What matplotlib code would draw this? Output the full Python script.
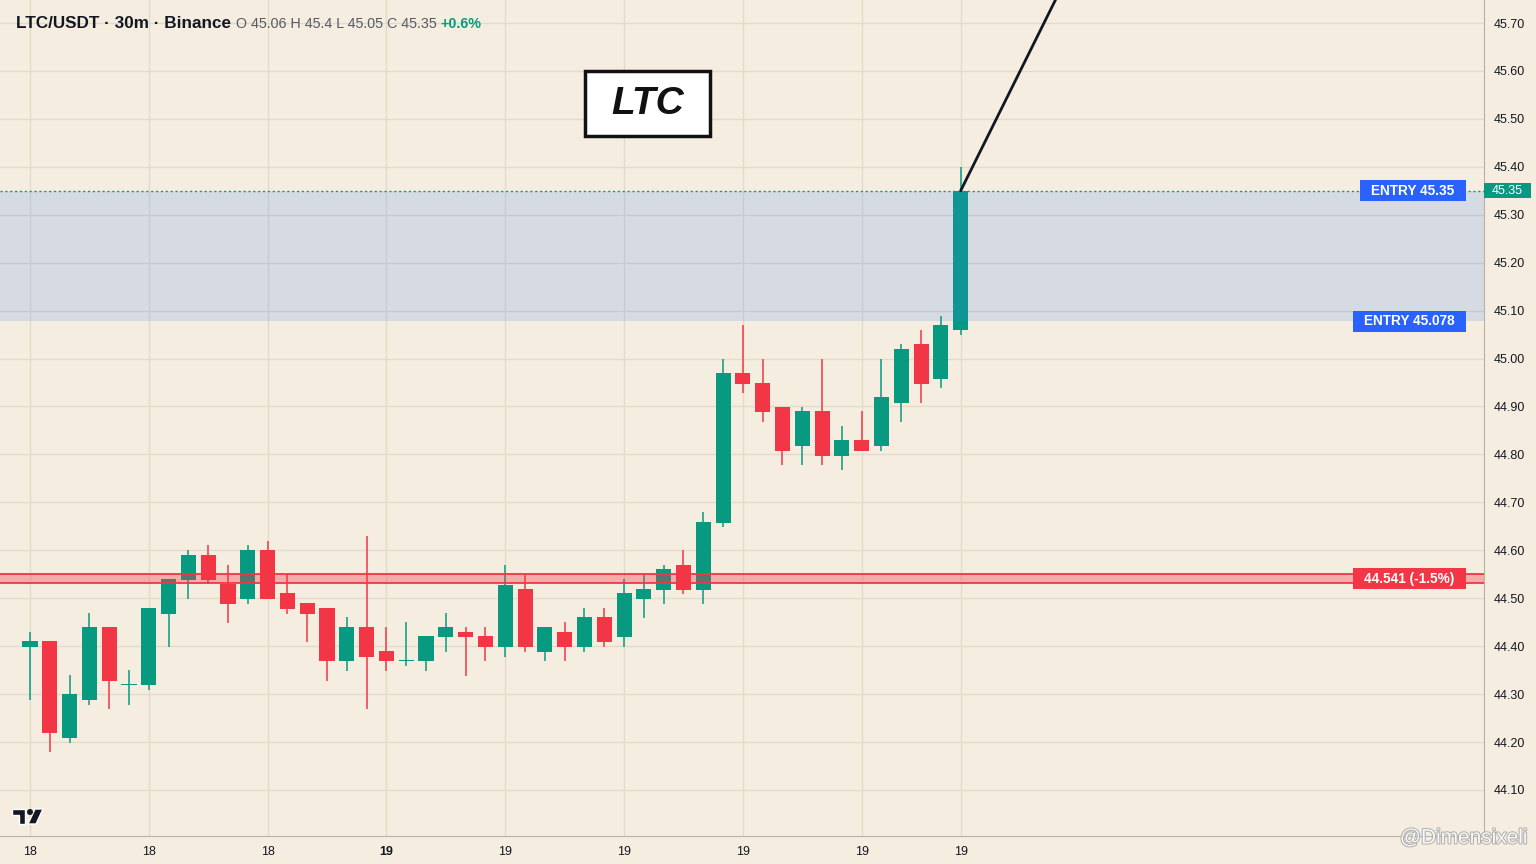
import matplotlib
matplotlib.use("Agg")
import matplotlib.pyplot as plt
import matplotlib.transforms as mtransforms
from matplotlib.patches import Rectangle, Polygon, Ellipse, FancyBboxPatch
import matplotlib.patheffects as pe
import numpy as np

# ---------------- data ----------------
opens = [44.398, 44.411, 44.209, 44.288, 44.440, 44.319, 44.319, 44.467, 44.538, 44.590,
         44.530, 44.498, 44.601, 44.511, 44.490, 44.480, 44.369, 44.440, 44.390, 44.369,
         44.369, 44.419, 44.430, 44.421, 44.398, 44.519, 44.388, 44.430, 44.398, 44.461,
         44.419, 44.498, 44.517, 44.569, 44.517, 44.657, 44.970, 44.949, 44.899, 44.818,
         44.891, 44.797, 44.830, 44.818, 44.907, 45.030, 44.957, 45.060]
highs = [44.430, 44.411, 44.340, 44.469, 44.440, 44.350, 44.480, 44.540, 44.601, 44.611,
         44.569, 44.611, 44.619, 44.551, 44.490, 44.480, 44.461, 44.630, 44.440, 44.450,
         44.421, 44.469, 44.440, 44.440, 44.569, 44.551, 44.440, 44.450, 44.480, 44.480,
         44.540, 44.551, 44.569, 44.601, 44.680, 44.999, 45.070, 44.999, 44.899, 44.899,
         44.999, 44.859, 44.891, 44.999, 45.030, 45.060, 45.089, 45.400]
lows = [44.288, 44.179, 44.198, 44.277, 44.269, 44.277, 44.309, 44.398, 44.498, 44.530,
        44.448, 44.488, 44.498, 44.467, 44.409, 44.327, 44.348, 44.269, 44.348, 44.359,
        44.348, 44.388, 44.338, 44.369, 44.377, 44.388, 44.369, 44.369, 44.388, 44.398,
        44.398, 44.459, 44.488, 44.509, 44.488, 44.649, 44.928, 44.868, 44.778, 44.778,
        44.778, 44.768, 44.807, 44.807, 44.868, 44.907, 44.939, 45.050]
closes = [44.411, 44.219, 44.300, 44.440, 44.327, 44.322, 44.480, 44.540, 44.590, 44.538,
          44.488, 44.601, 44.498, 44.478, 44.467, 44.369, 44.440, 44.377, 44.369, 44.372,
          44.421, 44.440, 44.419, 44.398, 44.528, 44.398, 44.440, 44.398, 44.461, 44.409,
          44.511, 44.519, 44.561, 44.517, 44.659, 44.970, 44.947, 44.889, 44.807, 44.891,
          44.797, 44.830, 44.807, 44.920, 45.020, 44.947, 45.070, 45.350]

xtick_idx = [0, 6, 12, 18, 24, 30, 36, 42, 47]
xtick_labels = ["18", "18", "18", "19", "19", "19", "19", "19", "19"]
bold_tick_pos = 3

ytick_vals = [44.10, 44.20, 44.30, 44.40, 44.50, 44.60, 44.70, 44.80, 44.90,
              45.00, 45.10, 45.20, 45.30, 45.40, 45.50, 45.60, 45.70]

entry_high = 45.35
entry_low = 45.078
stop_level = 44.541
stop_label = "44.541 (-1.5%)"
last_price = 45.35
trend_line_x = [47, 53]
trend_line_y = [45.35, 45.849]

title_main = "LTC/USDT · 30m · Binance"
title_ohlc = "O 45.06 H 45.4 L 45.05 C 45.35"
title_change = "+0.6%"

# ---------------- style ----------------
BG = "#f5eee0"
GREEN = "#089981"
RED = "#f23645"
BLUE = "#2962ff"
TEXT = "#131722"
GRID = "#e2dacb"
plt.rcParams['font.family'] = ['Liberation Sans', 'DejaVu Sans']

W, H = 1536, 864
AX_W, AX_H = 1484, 836
YMIN, YMAX = 44.004, 45.748
PX_PER_UNIT = AX_H / (YMAX - YMIN)

fig = plt.figure(figsize=(W / 100, H / 100), dpi=100, facecolor=BG)
ax = fig.add_axes([0, (H - AX_H) / H, AX_W / W, AX_H / H])
ax.set_facecolor(BG)

ax.set_xlim(-1.515, 73.43)
ax.set_ylim(YMIN, YMAX)

# grid
for v in ytick_vals:
    ax.axhline(v, color=GRID, lw=1, zorder=0)
for i in xtick_idx:
    ax.axvline(i, color=GRID, lw=1, zorder=0)

# candles
o = np.array(opens); h = np.array(highs); l = np.array(lows); c = np.array(closes)
x = np.arange(len(o))
cols = [GREEN if cc >= oo else RED for oo, cc in zip(o, c)]
bottoms = np.minimum(o, c)
heights = np.maximum(np.abs(c - o), 0.0022)
ax.vlines(x, l, h, colors=cols, lw=1.1, zorder=2)
ax.bar(x, heights, bottom=bottoms, width=0.76, color=cols, edgecolor='none', zorder=2.1)

# entry zone
ax.axhspan(entry_low, entry_high, facecolor=(0.26, 0.49, 0.97), alpha=0.17, lw=0, zorder=3)
# dotted last price line
ax.axhline(last_price, color=GREEN, lw=1, ls=(0, (1.5, 2)), zorder=3.5)

# stop band
band = 0.0095
ax.axhspan(stop_level - band, stop_level + band, facecolor=RED, alpha=0.35, lw=0, zorder=3)
ax.axhline(stop_level - band, color=RED, lw=1.3, zorder=3.2)
ax.axhline(stop_level + band, color=RED, lw=1.3, zorder=3.2)

# trend line
ax.plot(trend_line_x, trend_line_y, color=TEXT, lw=2, zorder=4, solid_capstyle='round')

# LTC box (pixel-placed annotation)
ax.add_patch(Rectangle((585 / AX_W, 1 - 136 / AX_H), 125 / AX_W, 65 / AX_H, transform=ax.transAxes,
                       facecolor='white', edgecolor='#111111', lw=2.5, zorder=6))
ax.text(647.5 / AX_W, 1 - 104 / AX_H, "LTC", transform=ax.transAxes, ha='center', va='center',
        fontsize=28, fontweight='bold', style='italic', color='#111111', zorder=6.5)

# labels
trans = mtransforms.blended_transform_factory(ax.transAxes, ax.transData)


def tag(text, level, x_left, x_right, color, fs=9.8, weight='bold', h_px=21, clip=True):
    hh = h_px / PX_PER_UNIT
    p = FancyBboxPatch((x_left / AX_W, level - hh / 2), (x_right - x_left) / AX_W, hh,
                       boxstyle='square,pad=0', transform=trans, facecolor=color,
                       edgecolor='none', zorder=7, clip_on=clip)
    ax.add_patch(p)
    ax.text((x_left + x_right) / 2 / AX_W, level, text, transform=trans, ha='center', va='center',
            fontsize=fs, fontweight=weight, color='white', zorder=7.5, clip_on=False)


tag(f"ENTRY {entry_high:.2f}", entry_high, 1360, 1466, BLUE)
tag(f"ENTRY {entry_low:.3f}", entry_low, 1353, 1466, BLUE)
tag(stop_label, stop_level, 1353, 1466, RED)

# axes / ticks
for s in ['top', 'left']:
    ax.spines[s].set_visible(False)
ax.spines['right'].set_color('#b8b2a6')
ax.spines['bottom'].set_color('#b8b2a6')
ax.yaxis.tick_right()
ax.set_yticks(ytick_vals)
ax.set_yticklabels([f"{v:.2f}" for v in ytick_vals])
ax.tick_params(axis='y', length=0, pad=7, labelsize=9, labelcolor=TEXT)
ax.set_xticks(xtick_idx)
ax.set_xticklabels(xtick_labels)
ax.tick_params(axis='x', length=0, pad=7, labelsize=9, labelcolor=TEXT)
ax.get_xticklabels()[bold_tick_pos].set_fontweight('bold')

# right axis price tag
tag(f"{last_price:.2f}", last_price, 1484, 1531, GREEN, fs=9, weight='normal', h_px=15, clip=False)

# title (chained)
fig.canvas.draw()
renderer = fig.canvas.get_renderer()
t1 = fig.text(16 / W, 1 - 23 / H, title_main, ha='left', va='center', fontsize=12.3,
              fontweight='bold', color=TEXT)
x1 = t1.get_window_extent(renderer).x1
t2 = fig.text((x1 + 5) / W, 1 - 23.5 / H, title_ohlc, ha='left', va='center', fontsize=10.3,
              color='#555a66')
x2 = t2.get_window_extent(renderer).x1
fig.text((x2 + 4) / W, 1 - 23.5 / H, title_change, ha='left', va='center', fontsize=10.3,
         fontweight='bold', color=GREEN)


# TradingView-like logo (decorative)
def px(xp, yp):
    return (xp / W, 1 - yp / H)


logo_col = '#131722'
fig.patches.append(Polygon([px(12, 809), px(25, 809), px(25, 824), px(19, 824), px(19, 815), px(12, 815)],
                           closed=True, transform=fig.transFigure, facecolor=logo_col, edgecolor='white', lw=1))
fig.patches.append(Polygon([px(35, 809), px(43, 809), px(36, 824), px(28, 824)],
                           closed=True, transform=fig.transFigure, facecolor=logo_col, edgecolor='white', lw=1))
fig.patches.append(Ellipse(px(30, 812), 6 / W, 6 / H, transform=fig.transFigure, facecolor=logo_col,
                           edgecolor='none'))

# watermark
fig.text(1528 / W, 1 - 838 / H, "@Dimensixeli", ha='right', va='center', fontsize=15, color='white', alpha=0.9,
         path_effects=[pe.withStroke(linewidth=1.5, foreground='#aaaaaa')])

fig.savefig("out.png", dpi=100, facecolor=BG)
